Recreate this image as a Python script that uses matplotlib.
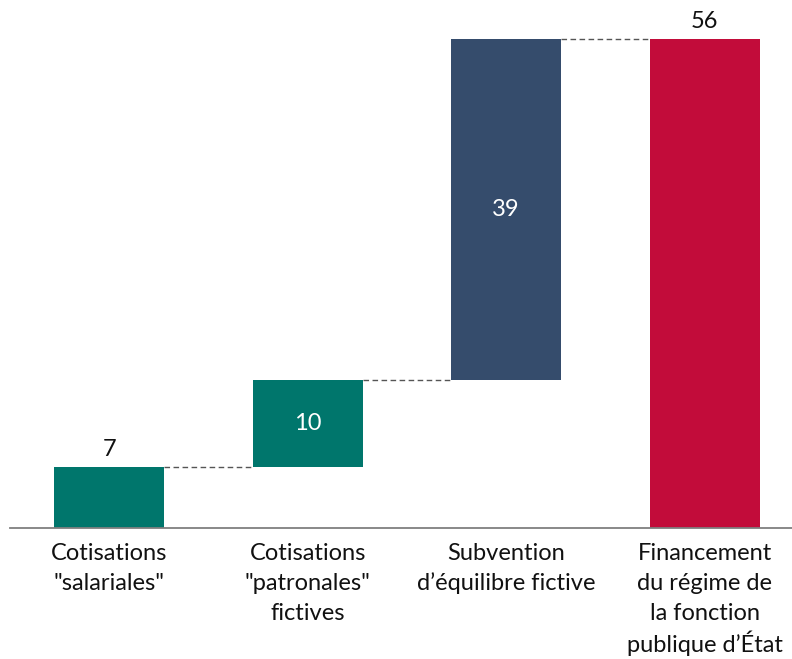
import numpy as np
from matplotlib import pyplot as plt
from matplotlib import transforms

plt.rcParams['font.family'] = ['Lato', 'DejaVu Sans']

categories = ['Cotisations\n"salariales"', 'Cotisations\n"patronales"\nfictives',
              'Subvention\nd\u2019équilibre fictive',
              'Financement\ndu régime de\nla fonction\npublique d\u2019État']
values = [7, 10, 39, 56]
is_total = [False, False, False, True]
colors = ['#00766C', '#00766C', '#354C6C', '#C20C3A']

bottoms = []
running = 0
for v, tot in zip(values, is_total):
    if tot:
        bottoms.append(0)
    else:
        bottoms.append(running)
        running += v
tops = [b + v for b, v in zip(bottoms, values)]

fig = plt.figure(figsize=(7.92, 6.59), dpi=100)
ax = fig.add_axes([10 / 792, 131 / 659, 1 - 10 / 792, 528 / 659])

x = np.arange(len(values))
w = 0.555
ax.bar(x, values, bottom=bottoms, width=w, color=colors, zorder=2)

# connector lines
for i in range(len(values) - 1):
    ax.plot([x[i] + w / 2, x[i + 1] - w / 2], [tops[i], tops[i]],
            color='#555555', lw=1, ls=(0, (4, 2.5)), zorder=1)

fs = 17
for i, v in enumerate(values):
    if i == 0 or is_total[i]:
        ax.text(x[i], tops[i] + 0.8, str(v), ha='center', va='bottom',
                fontsize=fs, color='#111111')
    else:
        ax.text(x[i], bottoms[i] + v / 2, str(v), ha='center', va='center',
                fontsize=fs, color='white')

# category labels, one text per line so the accent doesn't shift spacing
trans = transforms.blended_transform_factory(ax.transData, ax.transAxes)
for i, lab in enumerate(categories):
    for j, line in enumerate(lab.split('\n')):
        off = transforms.ScaledTranslation(0, -(25 + 30 * j) / 100, fig.dpi_scale_trans)
        ax.text(x[i], 0, line, ha='center', va='center', fontsize=fs,
                color='#111111', transform=trans + off)

ax.set_xlim(-0.5, 3.44)
ax.set_ylim(0, 60.5)
ax.set_xticks([])
ax.set_yticks([])
for s in ['top', 'right', 'left']:
    ax.spines[s].set_visible(False)
ax.spines['bottom'].set_color('#7f7f7f')
ax.spines['bottom'].set_linewidth(1.3)

plt.savefig('out.png', dpi=100)
